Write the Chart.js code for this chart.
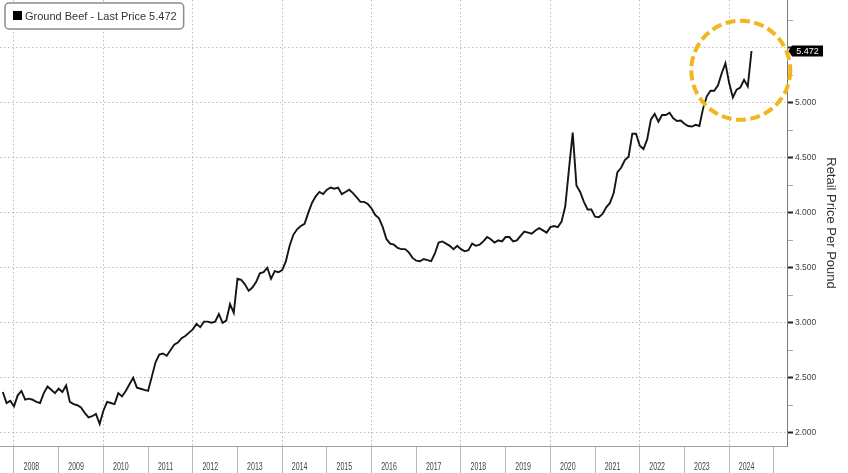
<!DOCTYPE html>
<html><head><meta charset="utf-8">
<script src="https://cdn.jsdelivr.net/npm/chart.js@4.4.1/dist/chart.umd.min.js"></script>
<style>html,body{margin:0;padding:0;background:#fff;overflow:hidden}canvas{display:block}</style>
</head><body>
<canvas id="c" width="848" height="473"></canvas>
<script>
// ---- data ----
const seriesName = 'Ground Beef';
const axisTitle = 'Retail Price Per Pound';
const startYear = 2007, startMonth = 9; // first monthly observation (Sep 2007)
const prices = [
  2.37,2.27,2.29,2.24,2.34,2.38,2.30,2.31,2.30,2.28,2.27,2.36,
  2.42,2.39,2.36,2.40,2.37,2.43,2.28,2.26,2.25,2.23,2.18,2.14,
  2.15,2.17,2.08,2.20,2.28,2.27,2.26,2.36,2.33,2.38,2.44,2.50,
  2.41,2.40,2.39,2.38,2.51,2.64,2.71,2.72,2.70,2.75,2.80,2.82,
  2.86,2.88,2.91,2.94,2.99,2.96,3.01,3.01,3.00,3.01,3.08,3.00,
  3.02,3.17,3.09,3.40,3.39,3.35,3.29,3.32,3.37,3.45,3.46,3.50,
  3.40,3.47,3.46,3.48,3.56,3.70,3.80,3.85,3.88,3.90,4.00,4.09,
  4.15,4.19,4.17,4.21,4.23,4.22,4.23,4.17,4.19,4.21,4.18,4.14,
  4.10,4.10,4.08,4.04,3.98,3.95,3.87,3.76,3.72,3.71,3.68,3.67,
  3.67,3.64,3.59,3.565,3.56,3.58,3.57,3.56,3.63,3.73,3.74,3.72,
  3.70,3.67,3.70,3.67,3.65,3.66,3.72,3.70,3.71,3.74,3.78,3.76,
  3.73,3.75,3.74,3.78,3.78,3.74,3.75,3.79,3.83,3.82,3.81,3.84,
  3.86,3.84,3.82,3.87,3.88,3.87,3.92,4.06,4.40,4.73,4.25,4.19,
  4.10,4.03,4.03,3.965,3.96,3.99,4.05,4.09,4.18,4.37,4.41,4.48,
  4.51,4.72,4.72,4.61,4.58,4.67,4.85,4.90,4.83,4.89,4.89,4.91,
  4.86,4.835,4.84,4.81,4.79,4.785,4.80,4.79,4.95,5.06,5.11,5.11,
  5.16,5.27,5.36,5.18,5.05,5.12,5.14,5.21,5.15,5.472
];
const yearLabels = [2008,2009,2010,2011,2012,2013,2014,2015,2016,2017,2018,2019,2020,2021,2022,2023,2024];
const yTickValues = [2.0,2.25,2.5,2.75,3.0,3.25,3.5,3.75,4.0,4.25,4.5,4.75,5.0,5.25,5.5,5.75];
const yLabelValues = [2.0,2.5,3.0,3.5,4.0,4.5,5.0];

// ---- build ----
const points = prices.map((v, i) => ({ x: startYear + (startMonth + i) / 12, y: v }));
const lastPrice = prices[prices.length - 1];
const yearBounds = yearLabels.concat([yearLabels[yearLabels.length - 1] + 1]);
const FONT = '"Liberation Sans", Arial, sans-serif';
const isMajor = v => Math.abs(v * 2 - Math.round(v * 2)) < 1e-6;
const hasLabel = v => yLabelValues.some(l => Math.abs(l - v) < 1e-6);

const overlay = {
  id: 'overlay',
  afterDraw(chart) {
    const ctx = chart.ctx, a = chart.chartArea;
    const xs = chart.scales.x, ys = chart.scales.y;
    ctx.save();
    // year labels (condensed), placed in each year band
    ctx.fillStyle = '#444';
    ctx.font = '11px ' + FONT;
    ctx.textAlign = 'center';
    ctx.textBaseline = 'middle';
    yearLabels.forEach(yr => {
      const px = xs.getPixelForValue(yr + 0.39);
      ctx.save();
      ctx.translate(px, xs.top + 20.5);
      ctx.scale(0.64, 1);
      ctx.fillText(String(yr), 0, 0);
      ctx.restore();
    });
    // highlight circle around recent values
    const cx = xs.getPixelForValue(2024.26), cy = ys.getPixelForValue(5.297);
    ctx.beginPath();
    ctx.arc(cx, cy, 49.5, 0, Math.PI * 2);
    ctx.strokeStyle = '#F2B51C';
    ctx.lineWidth = 4;
    ctx.setLineDash([10, 4.5]);
    ctx.stroke();
    ctx.setLineDash([]);
    // legend box
    ctx.font = '11px ' + FONT;
    const text = seriesName + ' - Last Price ' + lastPrice.toFixed(3);
    const tw = ctx.measureText(text).width;
    const x0 = a.left + 5, y0 = a.top + 3, h = 26, w = tw + 27;
    ctx.beginPath();
    ctx.roundRect(x0, y0, w, h, 4);
    ctx.fillStyle = '#fff';
    ctx.fill();
    ctx.strokeStyle = '#8c8c8c';
    ctx.lineWidth = 1.5;
    ctx.stroke();
    ctx.fillStyle = '#000';
    ctx.fillRect(x0 + 8, y0 + 8, 9, 9);
    ctx.fillStyle = '#333';
    ctx.textBaseline = 'middle';
    ctx.textAlign = 'left';
    ctx.fillText(text, x0 + 20, y0 + h / 2 + 0.5);
    // last price tag on the right axis
    const py = ys.getPixelForValue(lastPrice);
    const bx = a.right + 5;
    ctx.beginPath();
    ctx.moveTo(a.right + 1.5, py);
    ctx.lineTo(bx, py - 5.5);
    ctx.lineTo(bx + 31, py - 5.5);
    ctx.lineTo(bx + 31, py + 5.5);
    ctx.lineTo(bx, py + 5.5);
    ctx.closePath();
    ctx.fillStyle = '#000';
    ctx.fill();
    ctx.fillStyle = '#fff';
    ctx.font = '9px ' + FONT;
    ctx.textAlign = 'center';
    ctx.fillText(lastPrice.toFixed(3), bx + 15.5, py + 0.5);
    ctx.restore();
  }
};

new Chart(document.getElementById('c'), {
  type: 'line',
  data: { datasets: [{
    label: seriesName,
    data: points,
    borderColor: '#151515',
    borderWidth: 1.9,
    pointRadius: 0,
    tension: 0,
    fill: false
  }]},
  options: {
    responsive: false,
    devicePixelRatio: 1,
    animation: false,
    layout: { padding: 0 },
    plugins: { legend: { display: false }, tooltip: { enabled: false } },
    scales: {
      x: {
        type: 'linear',
        min: 2007.687, max: 2025.294,
        afterBuildTicks: s => { s.ticks = yearBounds.map(v => ({ value: v })); },
        afterFit: s => { s.height = 27; s.paddingLeft = 0; s.paddingRight = 0; },
        ticks: { display: false, autoSkip: false },
        grid: {
          color: c => (c.tick && c.tick.value % 2 === 0 ? '#bdbdbd' : 'rgba(0,0,0,0)'),
          lineWidth: 1,
          tickLength: 27,
          tickColor: '#b8b8b8',
          tickWidth: 1
        },
        border: { display: true, color: '#a0a0a0', width: 1, dash: [1.5, 2.5] }
      },
      y: {
        type: 'linear',
        position: 'right',
        min: 1.879, max: 5.936,
        afterBuildTicks: s => { s.ticks = yTickValues.map(v => ({ value: v })); },
        afterFit: s => { s.width = 61; s.paddingTop = 0; s.paddingBottom = 0; },
        ticks: {
          padding: 2,
          color: '#444', font: { family: FONT, size: 8.5 },
          callback: v => (hasLabel(v) ? v.toFixed(3) : '')
        },
        grid: {
          color: c => (c.tick && isMajor(c.tick.value) ? '#bdbdbd' : 'rgba(0,0,0,0)'),
          lineWidth: 1,
          tickLength: 6,
          tickColor: c => (c.tick && isMajor(c.tick.value) ? '#222' : '#aaa'),
          tickWidth: c => (c.tick && isMajor(c.tick.value) ? 2 : 1)
        },
        border: { display: true, color: '#7a7a7a', width: 1, dash: [1.5, 2.5] },
        title: {
          display: true, text: axisTitle,
          color: '#333', font: { family: FONT, size: 13 },
          padding: { top: 10, bottom: 0 }
        }
      }
    }
  },
  plugins: [overlay]
});
</script>
</body></html>
